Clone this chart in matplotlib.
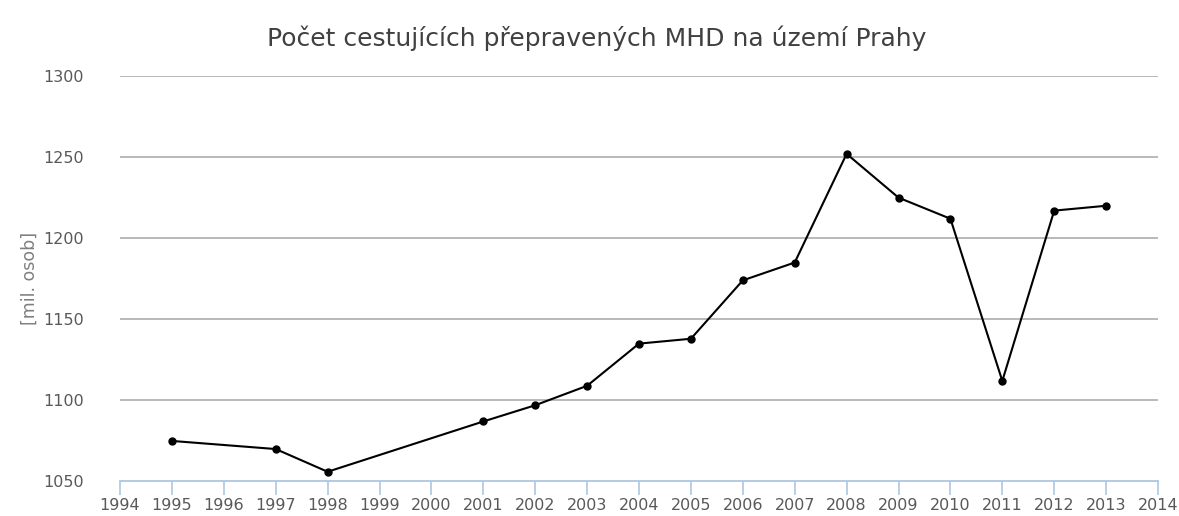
"""Počet cestujících přepravených MHD na území Prahy - line chart."""

import matplotlib
matplotlib.use("Agg")
import matplotlib.pyplot as plt

# data
years = [1995, 1997, 1998, 2001, 2002, 2003, 2004, 2005, 2006, 2007,
         2008, 2009, 2010, 2011, 2012, 2013]
passengers = [1075, 1070, 1056, 1087, 1097, 1109, 1135, 1138, 1174, 1185,
              1252, 1225, 1212, 1112, 1217, 1220]
x_ticks = list(range(1994, 2015))
y_ticks = [1050, 1100, 1150, 1200, 1250, 1300]

title = "Počet cestujících přepravených MHD na území Prahy"
y_label = "[mil. osob]"

plt.rcParams["font.family"] = ["DejaVu Sans"]

fig = plt.figure(figsize=(11.79, 5.16), dpi=100)
ax = fig.add_axes([0.1018, 0.0669, 0.8804, 0.7858])

# horizontal gridlines
for v in y_ticks[1:]:
    ax.axhline(v, color="#b3b3b3", linewidth=1.3, zorder=1)

ax.plot(years, passengers, color="black", linewidth=1.5,
        marker="o", markersize=5, zorder=3)

ax.set_xlim(1994, 2014)
ax.set_ylim(1050, 1300)
ax.set_xticks(x_ticks)
ax.set_yticks(y_ticks)

for side in ("top", "right", "left"):
    ax.spines[side].set_visible(False)
ax.spines["bottom"].set_color("#aec6e0")
ax.spines["bottom"].set_linewidth(1.3)

ax.tick_params(axis="x", colors="#aec6e0", length=10, width=1.2,
               labelcolor="#595959", labelsize=11.5, pad=2)
ax.tick_params(axis="y", length=0, labelcolor="#595959", labelsize=11.5,
               pad=26)

ax.set_ylabel(y_label, color="#7f7f7f", fontsize=12.5, labelpad=3)
fig.text(0.506, 0.926, title, ha="center", va="center",
         fontsize=18, color="#404040")

fig.savefig("out.png", dpi=100, facecolor="white")
